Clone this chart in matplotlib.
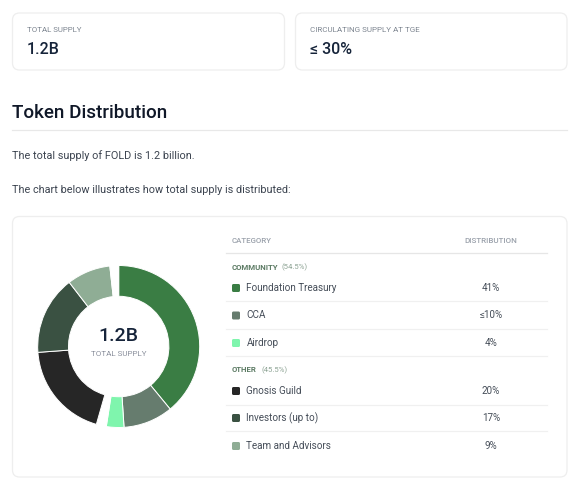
import matplotlib
matplotlib.use('Agg')
import matplotlib.pyplot as plt
from matplotlib.patches import FancyBboxPatch

W, H = 583, 503

#Table contents
groups = ['COMMUNITY', 'OTHER']
group_shares = ['(54.5%)', '(45.5%)']
categories = ['Foundation Treasury', 'CCA', 'Airdrop', 'Gnosis Guild', 'Investors (up to)', 'Team and Advisors']
distribution = ['41%', '≤10%', '4%', '20%', '17%', '9%']
colors = ['#3a7d44', '#667c6e', '#7ff5ad', '#262626', '#3a5142', '#8fad95']

#Ring shares, the two gaps are blank slices
ring_shares = [39.05, 9.9, 3.5, 2.0, 19.4, 15.7, 8.7, 1.75]
ring_colors = [colors[0], colors[1], colors[2], 'none', colors[3], colors[4], colors[5], 'none']

plt.rcParams['font.family'] = ['Roboto', 'DejaVu Sans']

fig = plt.figure(figsize=(W/100, H/100), dpi=100)
bg = fig.add_axes([0, 0, 1, 1])
bg.set_xlim(0, W)
bg.set_ylim(H, 0)
bg.axis('off')

def card(x0, y0, x1, y1):
    bg.add_patch(FancyBboxPatch((x0+7, y0+7), x1-x0-14, y1-y0-14, boxstyle='round,pad=7,rounding_size=7',
                                fc='white', ec='#eeeeee', lw=0.9))

def label(x, y, s, size, color, weight='normal', ha='left', **kw):
    bg.text(x, y, s, fontsize=size, color=color, fontweight=weight, ha=ha, va='center', **kw)

#Top cards
card(12.5, 13, 284.5, 70)
card(295.5, 13, 567, 70)
label(27, 29.5, 'TOTAL SUPPLY', 5.7, '#7d8590')
label(27, 49, '1.2B', 11.5, '#16243a', 'medium')
label(310, 29.5, 'CIRCULATING SUPPLY AT TGE', 5.8, '#7d8590')
label(310, 49, '≤ 30%', 11.5, '#16243a', 'medium')

#Heading and text
label(12.5, 113, 'Token Distribution', 13.6, '#101828', 'medium')
bg.plot([12, 567], [130, 130], color='#e8e8e8', lw=0.9)
label(12.5, 156, 'The total supply of FOLD is 1.2 billion.', 7.8, '#3c4450')
label(12.5, 190, 'The chart below illustrates how total supply is distributed:', 7.8, '#3c4450')

#Chart card
card(12.5, 216.5, 567, 477)

#Table
label(232, 241, 'CATEGORY', 5.7, '#9aa1ab', 'medium')
label(491, 241, 'DISTRIBUTION', 5.8, '#9aa1ab', 'medium', ha='center')
bg.plot([226, 547], [253, 253], color='#e6e6e6', lw=0.9)

group_y = [267, 370]
group_off = [49, 29]
for i in range(len(groups)):
    label(232, group_y[i], groups[i], 5.6, '#5b7a63', 'bold')
    label(232+group_off[i], group_y[i], group_shares[i], 5.6, '#8fa596')

row_y = [288, 315.5, 343, 391, 418, 446]
rule_y = [301, 328.5, 356, 404.5, 431]
for i in range(len(categories)):
    bg.add_patch(FancyBboxPatch((233, row_y[i]-3), 6, 6, boxstyle='round,pad=1,rounding_size=1.5',
                                fc=colors[i], ec='none'))
    label(246.5, row_y[i], categories[i], 7.1, '#454d58')
    label(491, row_y[i], distribution[i], 7.1, '#454d58', ha='center')
for y in rule_y:
    bg.plot([226, 547], [y, y], color='#f0f0f0', lw=0.9)

#Ring
cx, cy, R = 118.7, 346.5, 81
ax = fig.add_axes([(cx-R)/W, 1-(cy+R)/H, 2*R/W, 2*R/H])
ax.pie(ring_shares, colors=ring_colors, startangle=90, counterclock=False, radius=1,
       wedgeprops=dict(width=0.38, edgecolor='white', linewidth=0.7))
ax.set_xlim(-1, 1)
ax.set_ylim(-1, 1)
ax.text(0, 0.13, '1.2B', fontsize=14, color='#16243a', ha='center', va='center', fontweight='medium')
ax.text(0, -0.095, 'TOTAL SUPPLY', fontsize=5.8, color='#8a8f9c', ha='center', va='center')

fig.savefig('out.png', dpi=100)
